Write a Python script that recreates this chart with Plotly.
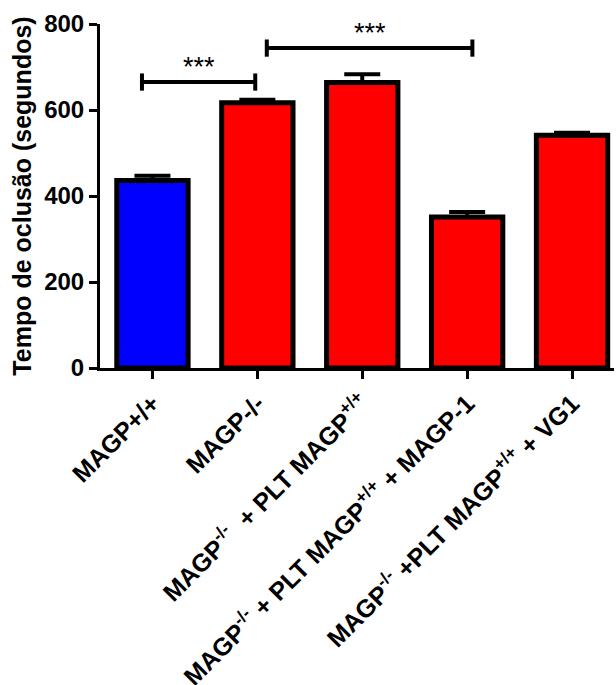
import plotly.graph_objects as go

# Occlusion time per group (mean and upper SEM)
groups = [
    "MAGP+/+",
    "MAGP-/-",
    "MAGP<sup>-/-</sup>  + PLT MAGP<sup>+/+</sup>",
    "MAGP<sup>-/-</sup> + PLT MAGP<sup>+/+</sup> + MAGP-1",
    "MAGP<sup>-/-</sup> +PLT MAGP<sup>+/+</sup> + VG1",
]
means = [436, 617, 664, 351, 541]
sem = [11, 7, 19, 12, 6]
bar_colors = ["#0000ff", "#ff0000", "#ff0000", "#ff0000", "#ff0000"]

# Significance brackets: (start, end, height, label)
brackets = [(-0.1, 0.98, 665, "***"), (1.09, 3.05, 744, "***")]
cap_half = 20

y_ticks = [0, 200, 400, 600, 800]

font_family = "Liberation Sans, Arial, sans-serif"

x_pos = list(range(len(groups)))

fig = go.Figure(
    go.Bar(
        x=x_pos,
        y=means,
        width=0.68,
        marker=dict(color=bar_colors, line=dict(color="black", width=5)),
        error_y=dict(
            type="data",
            symmetric=False,
            array=sem,
            arrayminus=[0] * len(sem),
            color="black",
            thickness=4,
            width=18,
        ),
    )
)

for x0, x1, yb, label in brackets:
    fig.add_shape(type="line", x0=x0, x1=x1, y0=yb, y1=yb,
                  line=dict(color="black", width=4), xref="x", yref="y")
    for xe in (x0, x1):
        fig.add_shape(type="line", x0=xe, x1=xe, y0=yb - cap_half, y1=yb + cap_half,
                      line=dict(color="black", width=4), xref="x", yref="y")
    fig.add_annotation(x=(x0 + x1) / 2, y=yb, text=label, showarrow=False,
                       yanchor="bottom", yshift=-2,
                       font=dict(family=font_family, size=27, color="black"))

fig.update_layout(
    width=616,
    height=685,
    margin=dict(l=100, r=2, t=24, b=317),
    paper_bgcolor="white",
    plot_bgcolor="white",
    showlegend=False,
    font=dict(family=font_family, color="black"),
)

fig.update_xaxes(
    range=[-0.5, 4.4],
    tickmode="array",
    tickvals=x_pos,
    ticktext=groups,
    tickangle=-45,
    tickfont=dict(family=font_family, size=25, color="black", weight="bold"),
    automargin=False,
    showline=True,
    linecolor="black",
    linewidth=3,
    ticks="outside",
    ticklen=8,
    tickwidth=3,
    tickcolor="black",
    showgrid=False,
    zeroline=False,
)

fig.update_yaxes(
    range=[0, 800],
    tickmode="array",
    tickvals=y_ticks,
    tickfont=dict(family=font_family, size=24, color="black", weight="bold"),
    title=dict(text="Tempo de oclusão (segundos)",
               font=dict(family=font_family, size=25, color="black", weight="bold"),
               standoff=6),
    automargin=False,
    showline=True,
    linecolor="black",
    linewidth=3,
    ticks="outside",
    ticklen=8,
    tickwidth=3,
    tickcolor="black",
    showgrid=False,
    zeroline=False,
)

fig.write_html("out.html")
